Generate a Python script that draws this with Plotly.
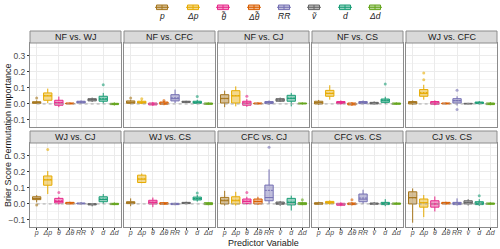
import plotly.graph_objects as go

# ---------------- data ----------------
panels = ["NF vs. WJ", "NF vs. CFC", "NF vs. CJ", "NF vs. CS", "WJ vs. CFC",
          "WJ vs. CJ", "WJ vs. CS", "CFC vs. CJ", "CFC vs. CS", "CJ vs. CS"]
variables = ["p", "Δp", "θ\u0303", "Δθ\u0303", "RR", "\u1e7d", "d", "Δd"]
colors = ["#A6761D", "#E6AB02", "#E7298A", "#D95F02", "#7570B3", "#666666", "#1B9E77", "#66A61E"]

lower = [
    [0.000, 0.006, -0.020, -0.002, 0.002, 0.012, 0.002, -0.010],
    [-0.002, -0.001, -0.012, -0.008, 0.006, 0.006, -0.002, -0.006],
    [-0.020, -0.015, -0.018, -0.004, -0.006, 0.012, -0.015, -0.004],
    [-0.006, 0.027, -0.004, -0.012, -0.002, -0.004, 0.000, -0.006],
    [-0.006, 0.027, -0.008, -0.003, -0.010, -0.002, -0.004, -0.008],
    [0.010, 0.062, -0.004, -0.002, -0.004, -0.015, 0.000, -0.008],
    [-0.014, 0.130, -0.020, -0.006, -0.008, -0.002, 0.015, -0.008],
    [-0.010, -0.010, -0.004, -0.006, 0.000, -0.012, -0.041, -0.008],
    [-0.006, -0.004, -0.014, -0.010, 0.000, -0.008, -0.014, -0.006],
    [-0.117, -0.082, -0.047, -0.004, -0.010, -0.010, -0.012, -0.006],
]
q1 = [
    [0.004, 0.023, -0.008, 0.000, 0.006, 0.019, 0.017, -0.004],
    [0.004, 0.004, -0.006, -0.002, 0.019, 0.010, 0.004, -0.002],
    [0.006, 0.006, -0.008, 0.000, 0.002, 0.017, 0.017, 0.000],
    [0.000, 0.048, 0.002, -0.006, 0.002, 0.000, 0.010, -0.002],
    [0.000, 0.048, -0.002, 0.000, 0.006, 0.000, 0.002, -0.004],
    [0.027, 0.117, 0.006, 0.000, 0.000, -0.006, 0.014, -0.004],
    [0.002, 0.134, 0.000, -0.002, -0.004, 0.002, 0.025, -0.004],
    [0.000, 0.000, 0.002, 0.000, 0.020, -0.002, -0.006, -0.004],
    [-0.002, 0.002, -0.008, -0.004, 0.014, -0.002, -0.004, -0.002],
    [0.000, -0.020, -0.020, 0.000, -0.004, 0.000, -0.004, -0.002],
]
median = [
    [0.008, 0.050, 0.007, 0.003, 0.012, 0.027, 0.030, 0.000],
    [0.010, 0.009, -0.001, 0.004, 0.033, 0.013, 0.008, 0.001],
    [0.035, 0.050, 0.005, 0.003, 0.008, 0.025, 0.035, 0.003],
    [0.008, 0.065, 0.008, 0.000, 0.008, 0.005, 0.020, 0.002],
    [0.008, 0.065, 0.006, 0.003, 0.020, 0.002, 0.007, 0.001],
    [0.035, 0.150, 0.015, 0.005, 0.003, -0.002, 0.028, 0.000],
    [0.008, 0.155, 0.010, 0.003, 0.000, 0.006, 0.032, 0.002],
    [0.020, 0.020, 0.015, 0.015, 0.040, 0.004, 0.010, 0.002],
    [0.002, 0.008, -0.003, 0.001, 0.030, 0.002, 0.002, 0.002],
    [0.040, 0.008, 0.000, 0.005, 0.003, 0.010, 0.004, 0.002],
]
q3 = [
    [0.014, 0.069, 0.023, 0.006, 0.017, 0.033, 0.048, 0.004],
    [0.019, 0.017, 0.006, 0.012, 0.058, 0.017, 0.017, 0.006],
    [0.058, 0.083, 0.017, 0.006, 0.015, 0.033, 0.054, 0.006],
    [0.017, 0.085, 0.015, 0.006, 0.015, 0.010, 0.031, 0.006],
    [0.015, 0.090, 0.015, 0.006, 0.033, 0.004, 0.012, 0.006],
    [0.045, 0.175, 0.035, 0.010, 0.006, 0.002, 0.045, 0.004],
    [0.014, 0.180, 0.023, 0.008, 0.004, 0.010, 0.043, 0.008],
    [0.041, 0.045, 0.031, 0.031, 0.118, 0.012, 0.035, 0.008],
    [0.008, 0.016, 0.004, 0.006, 0.062, 0.006, 0.010, 0.006],
    [0.076, 0.031, 0.020, 0.010, 0.010, 0.020, 0.014, 0.006],
]
upper = [
    [0.022, 0.096, 0.046, 0.009, 0.022, 0.040, 0.069, 0.010],
    [0.026, 0.024, 0.012, 0.020, 0.090, 0.020, 0.026, 0.010],
    [0.083, 0.110, 0.030, 0.010, 0.022, 0.040, 0.069, 0.010],
    [0.025, 0.117, 0.022, 0.012, 0.022, 0.016, 0.045, 0.010],
    [0.022, 0.120, 0.022, 0.009, 0.048, 0.007, 0.018, 0.012],
    [0.055, 0.206, 0.045, 0.014, 0.012, 0.006, 0.062, 0.010],
    [0.035, 0.190, 0.040, 0.012, 0.008, 0.014, 0.056, 0.012],
    [0.082, 0.076, 0.045, 0.045, 0.216, 0.018, 0.052, 0.014],
    [0.014, 0.022, 0.010, 0.012, 0.089, 0.012, 0.030, 0.010],
    [0.097, 0.056, 0.047, 0.014, 0.035, 0.030, 0.030, 0.010],
]
mean = [
    [0.010, 0.052, 0.008, 0.003, 0.011, 0.027, 0.032, 0.000],
    [0.011, 0.010, 0.000, 0.005, 0.038, 0.013, 0.010, 0.002],
    [0.033, 0.052, 0.006, 0.003, 0.008, 0.025, 0.036, 0.003],
    [0.009, 0.068, 0.008, 0.000, 0.008, 0.005, 0.024, 0.002],
    [0.008, 0.072, 0.006, 0.003, 0.021, 0.002, 0.007, 0.001],
    [0.034, 0.152, 0.020, 0.005, 0.003, -0.002, 0.030, 0.000],
    [0.008, 0.157, 0.011, 0.003, 0.000, 0.006, 0.034, 0.002],
    [0.024, 0.024, 0.018, 0.016, 0.085, 0.004, 0.011, 0.003],
    [0.003, 0.009, -0.002, 0.002, 0.037, 0.002, 0.003, 0.002],
    [0.038, 0.006, 0.000, 0.005, 0.004, 0.010, 0.006, 0.002],
]
# outliers: (panel index, variable index, value)
outlier_panel = [0, 0, 1, 1, 1, 1, 2, 3, 4, 4, 4, 4, 5, 5, 5, 6, 7, 7, 7, 8, 9]
outlier_var   = [0, 6, 0, 1, 3, 6, 2, 6, 1, 1, 4, 4, 0, 1, 2, 6, 2, 4, 7, 3, 6]
outlier_val   = [0.037, 0.120, 0.037, 0.033, 0.021, 0.046, 0.048, 0.125, 0.194, 0.152, 0.085, -0.035,
                 -0.006, 0.340, 0.072, 0.068, 0.072, 0.355, 0.027, 0.027, 0.052]

y_ticks = [-0.1, 0.0, 0.1, 0.2, 0.3]

# ---------------- layout helpers ----------------
W, H = 500, 249
FONT = "Liberation Sans, Arial, sans-serif"
def px(x): return x / W
def py(y): return 1 - y / H

col_left = [30, 124, 218, 312, 406]
panel_w = 91
row_strip_top = [31, 131]
row_top = [43, 143]
row_bot = [127, 227]

cat_labels = ["<i>%s</i>" % v for v in variables]

def rgba(hexc, a):
    h = hexc.lstrip("#")
    return "rgba(%d,%d,%d,%.2f)" % (int(h[0:2], 16), int(h[2:4], 16), int(h[4:6], 16), a)

fig = go.Figure()
shapes = []
annotations = []

for i, name in enumerate(panels):
    r, c = divmod(i, 5)
    n = i + 1
    xa = "x" if n == 1 else "x%d" % n
    ya = "y" if n == 1 else "y%d" % n
    # zero reference line drawn as a trace beneath the boxes
    fig.add_trace(go.Scatter(x=[cat_labels[0], cat_labels[-1]], y=[0, 0], mode="lines",
                             line=dict(color="#A8A8A8", width=1, dash="dot"),
                             xaxis=xa, yaxis=ya, showlegend=False, hoverinfo="skip",
                             cliponaxis=False))
    for j, v in enumerate(variables):
        fig.add_trace(go.Box(
            x=[cat_labels[j]], q1=[q1[i][j]], median=[median[i][j]], q3=[q3[i][j]],
            lowerfence=[lower[i][j]], upperfence=[upper[i][j]], mean=[mean[i][j]],
            boxmean=True, boxpoints=False, width=0.75, whiskerwidth=0,
            line=dict(color=colors[j], width=1), fillcolor=rgba(colors[j], 0.45),
            xaxis=xa, yaxis=ya, showlegend=False, hoverinfo="skip"))
    # outliers
    for k in range(len(outlier_val)):
        if outlier_panel[k] == i:
            j = outlier_var[k]
            fig.add_trace(go.Scatter(
                x=[cat_labels[j]], y=[outlier_val[k]], mode="markers",
                marker=dict(color=rgba(colors[j], 0.6), size=3),
                xaxis=xa, yaxis=ya, showlegend=False, hoverinfo="skip"))

    xd = [px(col_left[c]), px(col_left[c] + panel_w)]
    yd = [py(row_bot[r]), py(row_top[r])]
    axis_common = dict(showline=True, mirror=True, linecolor="#8C8C8C", linewidth=1,
                       showgrid=True, gridcolor="#EBEBEB", gridwidth=1, zeroline=False)
    fig.layout["xaxis" if n == 1 else "xaxis%d" % n] = dict(
        domain=xd, anchor=ya, type="category", categoryorder="array",
        categoryarray=cat_labels, range=[-0.6, 7.6], tickangle=0,
        showticklabels=(r == 1), ticks="outside" if r == 1 else "",
        ticklen=2, tickcolor="#333333", ticklabelstandoff=-3,
        tickfont=dict(family=FONT, size=7, color="#4D4D4D"), **axis_common)
    fig.layout["yaxis" if n == 1 else "yaxis%d" % n] = dict(
        domain=yd, anchor=xa, range=[-0.144, 0.381], tickvals=y_ticks,
        tickformat=".1f", showticklabels=(c == 0), ticks="outside" if c == 0 else "",
        ticklen=2, tickcolor="#333333",
        tickfont=dict(family=FONT, size=8.5, color="#4D4D4D"),
        minor=dict(showgrid=True, gridcolor="#F4F4F4", gridwidth=0.5, dtick=0.05, tick0=0.05),
        **axis_common)
    # strip
    shapes.append(dict(type="rect", xref="paper", yref="paper",
                       x0=px(col_left[c]), x1=px(col_left[c] + panel_w),
                       y0=py(row_top[r]), y1=py(row_strip_top[r]),
                       fillcolor="#D9D9D9", line=dict(color="#8C8C8C", width=1)))
    annotations.append(dict(text=name, xref="paper", yref="paper",
                            x=px(col_left[c] + panel_w / 2), y=py((row_top[r] + row_strip_top[r]) / 2),
                            showarrow=False, xanchor="center", yanchor="middle",
                            font=dict(family=FONT, size=9, color="#1A1A1A")))

# custom legend (keys above labels)
leg_x = [162, 193, 223, 254, 284, 314, 345, 375]
for j, v in enumerate(variables):
    cx = leg_x[j]
    shapes.append(dict(type="line", xref="paper", yref="paper", x0=px(cx - 7), x1=px(cx + 7),
                       y0=py(7.3), y1=py(7.3), line=dict(color=colors[j], width=1)))
    shapes.append(dict(type="rect", xref="paper", yref="paper", x0=px(cx - 5.5), x1=px(cx + 5.5),
                       y0=py(9.6), y1=py(5), fillcolor=rgba(colors[j], 0.45),
                       line=dict(color=colors[j], width=1)))
    shapes.append(dict(type="line", xref="paper", yref="paper", x0=px(cx), x1=px(cx),
                       y0=py(9.6), y1=py(5), line=dict(color=colors[j], width=1)))
    annotations.append(dict(text=cat_labels[j], xref="paper", yref="paper", x=px(cx), y=py(16),
                            showarrow=False, xanchor="center", yanchor="middle",
                            font=dict(family=FONT, size=8.5, color="#1A1A1A")))

annotations.append(dict(text="Predictor Variable", xref="paper", yref="paper",
                        x=px((col_left[0] + col_left[4] + panel_w) / 2), y=py(243),
                        showarrow=False, xanchor="center", yanchor="middle",
                        font=dict(family=FONT, size=9, color="#1A1A1A")))
annotations.append(dict(text="Brier Score Permutation Importance", xref="paper", yref="paper",
                        x=px(8), y=py((row_top[0] + row_bot[1]) / 2), textangle=-90,
                        showarrow=False, xanchor="center", yanchor="middle",
                        font=dict(family=FONT, size=9, color="#1A1A1A")))

fig.update_layout(width=W, height=H, margin=dict(l=0, r=0, t=0, b=0),
                  paper_bgcolor="white", plot_bgcolor="white", boxmode="overlay",
                  showlegend=False, shapes=shapes, annotations=annotations,
                  font=dict(family=FONT))
fig.write_html("out.html", config={"displayModeBar": False},
               post_script="document.body.style.margin='0px';document.body.style.padding='0px';")
